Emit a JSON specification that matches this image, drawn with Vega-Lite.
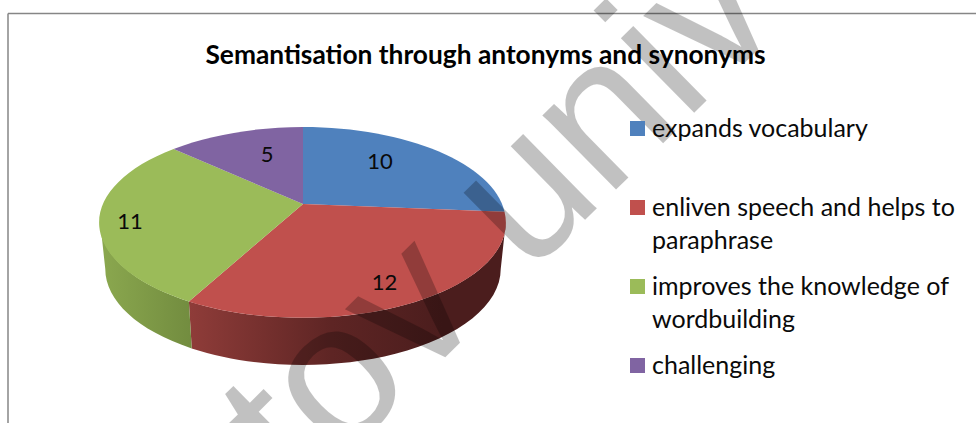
{
"$schema":"https://vega.github.io/schema/vega-lite/v6.json",
"width":976,"height":423,"padding":0,"autosize":{"type":"none"},
"background":"white",
"config":{"view":{"stroke":null},"font":"Lato"},
"data":{"values":[
{"order":1,"category":"expands vocabulary","value":10},
{"order":2,"category":"enliven speech and helps to|paraphrase","value":12},
{"order":3,"category":"improves the knowledge of|wordbuilding","value":11},
{"order":4,"category":"challenging","value":5}
]},
"transform":[
{"window":[{"op":"sum","field":"value","as":"cum"}],"sort":[{"field":"order","order":"ascending"}],"frame":[null,0]},
{"joinaggregate":[{"op":"sum","field":"value","as":"total"}]},
{"calculate":"2*PI*datum.cum/datum.total","as":"a1"},
{"calculate":"datum.a1-2*PI*datum.value/datum.total","as":"a0"},
{"calculate":"(datum.a0+datum.a1)/2","as":"am"},
{"calculate":"max(datum.a0,1.761)","as":"w0"},
{"calculate":"min(datum.a1,4.522)","as":"w1"},
{"calculate":"round(10*199*sin(datum.a0)/(1+0.1935*cos(datum.a0)))/10","as":"x0"},
{"calculate":"round(-10*91.9*cos(datum.a0)/(1+0.1935*cos(datum.a0)))/10","as":"y0"},
{"calculate":"round(10*199*sin(datum.a1)/(1+0.1935*cos(datum.a1)))/10","as":"x1"},
{"calculate":"round(-10*91.9*cos(datum.a1)/(1+0.1935*cos(datum.a1)))/10","as":"y1"},
{"calculate":"round(10*199*sin(datum.w0)/(1+0.1935*cos(datum.w0)))/10","as":"wx0"},
{"calculate":"round(-10*91.9*cos(datum.w0)/(1+0.1935*cos(datum.w0)))/10","as":"wy0"},
{"calculate":"round(10*199*sin(datum.w1)/(1+0.1935*cos(datum.w1)))/10","as":"wx1"},
{"calculate":"round(-10*91.9*cos(datum.w1)/(1+0.1935*cos(datum.w1)))/10","as":"wy1"},
{"calculate":"'M0,0L'+datum.x0+','+datum.y0+'A203,95 0 0 1 '+datum.x1+','+datum.y1+'Z'","as":"topPath"},
{"calculate":"'M'+datum.wx0+','+datum.wy0+'A203,95 0 0 1 '+datum.wx1+','+datum.wy1+'L'+(0.975*datum.wx1)+','+(datum.wy1+47)+'A198,96 0 0 0 '+(0.975*datum.wx0)+','+(datum.wy0+47)+'Z'","as":"wallPath"},
{"calculate":"303+0.75*199*sin(datum.am)/(1+0.1935*cos(datum.am))+[-20,-4,-21,15][datum.order-1]","as":"lx"},
{"calculate":"204-0.75*91.9*cos(datum.am)/(1+0.1935*cos(datum.am))+[-1,6,6,5][datum.order-1]","as":"ly"}
],
"layer":[
{"data":{"values":[{"edge":"left"}]},"transform":[],"mark":{"type":"rule","color":"#868686","strokeWidth":1.5},"encoding":{"x":{"value":8},"y":{"value":13.5},"y2":{"value":423}}},
{"data":{"values":[{"edge":"top"}]},"transform":[],"mark":{"type":"rule","color":"#868686","strokeWidth":1.5},"encoding":{"y":{"value":13.5},"x":{"value":8},"x2":{"value":976}}},
{"data":{"values":[{"title":"Semantisation through antonyms and synonyms"}]},"transform":[],
 "mark":{"type":"text","font":"Lato","fontWeight":"bold","fontSize":26.3,"color":"#000000","align":"center","baseline":"alphabetic"},
 "encoding":{"x":{"value":485.5},"y":{"value":64},"text":{"field":"title","type":"nominal"}}},
{"transform":[{"filter":"datum.order==2"}],
 "mark":{"type":"point","filled":true,"opacity":1,"strokeWidth":0,"size":4,
  "fill":{"gradient":"linear","x1":0,"y1":0,"x2":1,"y2":0,"stops":[{"offset":0,"color":"#8f3c39"},{"offset":0.45,"color":"#5e2524"},{"offset":0.8,"color":"#4b1d1d"},{"offset":1,"color":"#4b1d1d"}]}},
 "encoding":{"x":{"value":303},"y":{"value":204},"shape":{"field":"wallPath","type":"nominal","scale":null}}},
{"transform":[{"filter":"datum.order==3"}],
 "mark":{"type":"point","filled":true,"opacity":1,"strokeWidth":0,"size":4,
  "fill":{"gradient":"linear","x1":0,"y1":0,"x2":1,"y2":0,"stops":[{"offset":0,"color":"#8ba84f"},{"offset":1,"color":"#728c3f"}]}},
 "encoding":{"x":{"value":303},"y":{"value":204},"shape":{"field":"wallPath","type":"nominal","scale":null}}},
{"mark":{"type":"point","filled":true,"opacity":1,"strokeWidth":0,"size":4},
 "encoding":{"x":{"value":303},"y":{"value":204},
  "shape":{"field":"topPath","type":"nominal","scale":null},
  "color":{"field":"category","type":"nominal",
   "scale":{"domain":["expands vocabulary","enliven speech and helps to|paraphrase","improves the knowledge of|wordbuilding","challenging"],"range":["#4f81bd","#c0504d","#9bbb59","#8064a2"]},
   "sort":null,
   "legend":{"orient":"none","legendX":625,"legendY":95.5,"title":null,"columns":1,"symbolType":"square","symbolSize":225,"symbolStrokeWidth":0,"symbolOpacity":1,"labelFont":"Lato","labelFontSize":25,"labelColor":"#0a0a0a","labelLimit":400,"labelOffset":2,"labelBaseline":"alphabetic","rowPadding":-13,"gridAlign":"all","clipHeight":66,
    "labelExpr":"split(datum.label,'|')",
    "encoding":{"labels":{"lineHeight":{"value":33},"dy":{"value":8},"update":{"lineHeight":{"value":33},"dy":{"value":8}}}}}
  }}},
{"mark":{"type":"text","font":"Lato","fontSize":22,"color":"#0a0a0a","align":"center","baseline":"middle"},
 "encoding":{"x":{"field":"lx","type":"quantitative","scale":null},"y":{"field":"ly","type":"quantitative","scale":null},"text":{"field":"value","type":"quantitative"}}},
{"data":{"values":[{"mark":"tov univer"}]},"transform":[],
 "mark":{"type":"text","font":"Liberation Sans","fontSize":198,"color":"#000000","opacity":0.24,"angle":315.5,"align":"left","baseline":"alphabetic"},
 "encoding":{"x":{"value":300},"y":{"value":500},"text":{"field":"mark","type":"nominal"}}}
]
}
